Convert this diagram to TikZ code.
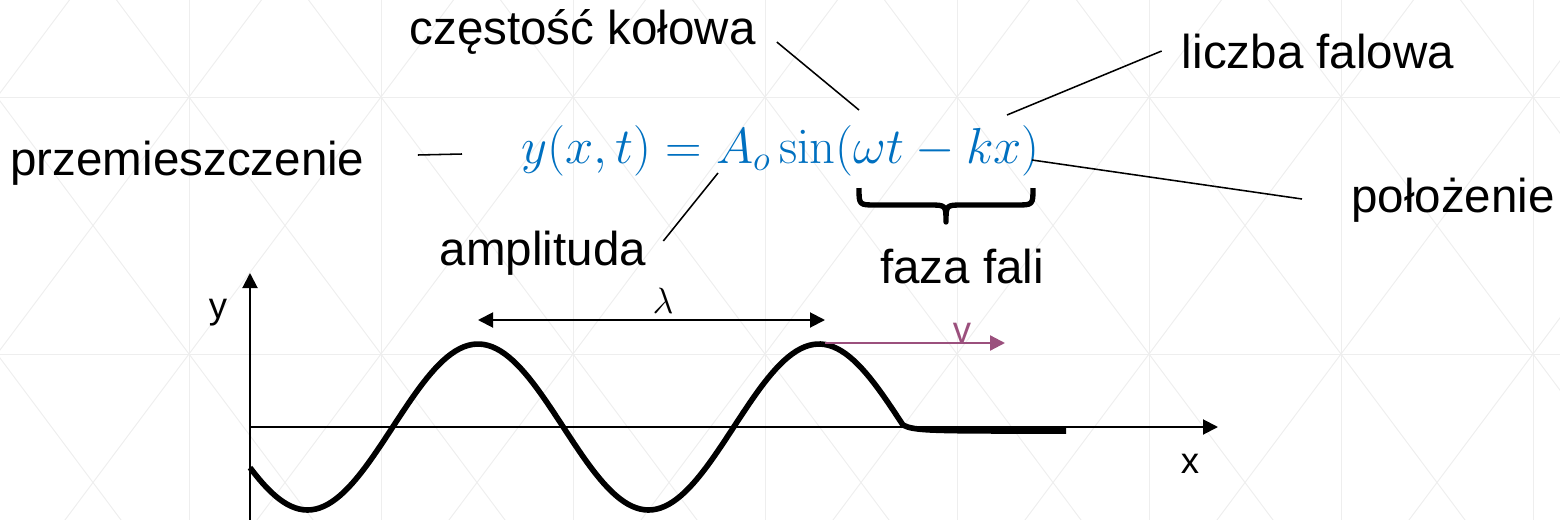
\RequirePackage{fix-cm}
\documentclass[tikz,border=0pt]{standalone}
\usepackage[no-math]{fontspec}
\setmainfont{Liberation Sans}
\usepackage{xcolor}
\usetikzlibrary{arrows.meta,calc}
\definecolor{eqblue}{RGB}{0,112,192}
\definecolor{vpurple}{RGB}{155,80,125}
\definecolor{gridgray}{RGB}{238,238,238}
\tikzset{
  lbl/.style   ={inner sep=0pt,anchor=base,font=\fontsize{33.8}{40}\selectfont},
  axlbl/.style ={inner sep=0pt,anchor=base,font=\fontsize{26}{30}\selectfont},
  eq/.style    ={inner sep=0pt,anchor=base,text=eqblue,font=\fontsize{36}{42}\selectfont},
  ptr/.style   ={line width=1.1pt},
  tip/.style   ={Triangle[length=3.75mm,width=3.75mm]},
  axis/.style  ={-{Triangle[length=3.75mm,width=3.75mm]},line width=1.4pt},
  wave/.style  ={line width=4pt,line join=round},
  bggrid/.style={draw=gridgray,line width=0.7pt},
}

\begin{document}
\begin{tikzpicture}[x=0.025cm,y=-0.025cm]
  \useasboundingbox (0,0) rectangle (1560,520);
  % faint background lattice
  \begin{scope}
    \clip (0,0) rectangle (1560,520);
    \foreach \gx in {-3,189,...,1533} \draw[bggrid] (\gx,0) -- (\gx,520);
    \foreach \gy in {97,354} \draw[bggrid] (0,\gy) -- (1560,\gy);
    \foreach \gx in {-195,-3,...,1533} \foreach \gy in {-160,97,354} {
      \draw[bggrid] (\gx,\gy) -- (\gx+192,\gy+257);
      \draw[bggrid] (\gx+192,\gy) -- (\gx,\gy+257);
    }
  \end{scope}

  % formula and labels
  \node[eq] (eq) at (780.5,163) {$y(x,t)=A_o\sin(\omega t-kx)$};
  \node[lbl] (czest)  at (582.5,44) {częstość kołowa};
  \node[lbl] (liczba) at (1318,68)  {liczba falowa};
  \node[lbl] (przem)  at (187.5,175) {przemieszczenie};
  \node[lbl] (polo)   at (1453,212) {położenie};
  \node[lbl] (ampl)   at (543,265)  {amplituda};
  \node[lbl] (faza)   at (962,283)  {faza fali};

  \coordinate (omega) at (859,110);
  \coordinate (kk)    at (1007,115);
  \coordinate (xx)    at (1032,160);
  \coordinate (yy)    at (462,154);
  \coordinate (AA)    at (718,173);
  \draw[ptr] ($(czest.base east)+(21,-2)$) -- (omega);
  \draw[ptr] ($(liczba.base west)+(-20,-17)$) -- (kk);
  \draw[ptr] ($(polo.base west)+(-49,-13)$) -- (xx);
  \draw[ptr] ($(przem.base east)+(53,-20)$) -- (yy);
  \draw[ptr] ($(ampl.base east)+(17,-24)$) -- (AA);

  % brace under the phase
  \draw[line width=3.8pt,line join=round] (859,188) .. controls (859,205) .. (876,205) -- (929,205)
    .. controls (946,205) .. (946,222) .. controls (946,205) .. (963,205) -- (1016,205)
    .. controls (1033,205) .. (1033,188);

  % axes
  \coordinate (O)    at (250,427);
  \coordinate (ybot) at (250,520);
  \coordinate (ytop) at (250,273);
  \coordinate (xend) at (1218,427);
  \draw[axis] (O) -- (xend);
  \draw[axis] (ybot) -- (ytop);
  \node[axlbl] (ylab) at (218,318) {y};
  \node[axlbl] (xlab) at (1190,473) {x};

  % wave
  \draw[wave] plot[domain=250:903,samples=160] (\x,{427-83*cos(1.05572*(\x-478))})
    .. controls (915,431) and (930,431) .. (1066,431);

  % wavelength and speed
  \coordinate (pk1) at (478,320);
  \coordinate (pk2) at (825,320);
  \draw[{Triangle[length=3.75mm,width=3.75mm]}-{Triangle[length=3.75mm,width=3.75mm]},line width=1.4pt] (pk1) -- (pk2);
  \node[axlbl] (lam) at (663,313) {$\lambda$};
  \coordinate (vs) at (825,343);
  \coordinate (ve) at (1005,343);
  \draw[vpurple,line width=1.6pt,-{Triangle[length=3.75mm,width=3.75mm]}] (vs) -- (ve);
  \node[axlbl,text=vpurple] (vlab) at (962,342) {v};
\end{tikzpicture}
\end{document}
